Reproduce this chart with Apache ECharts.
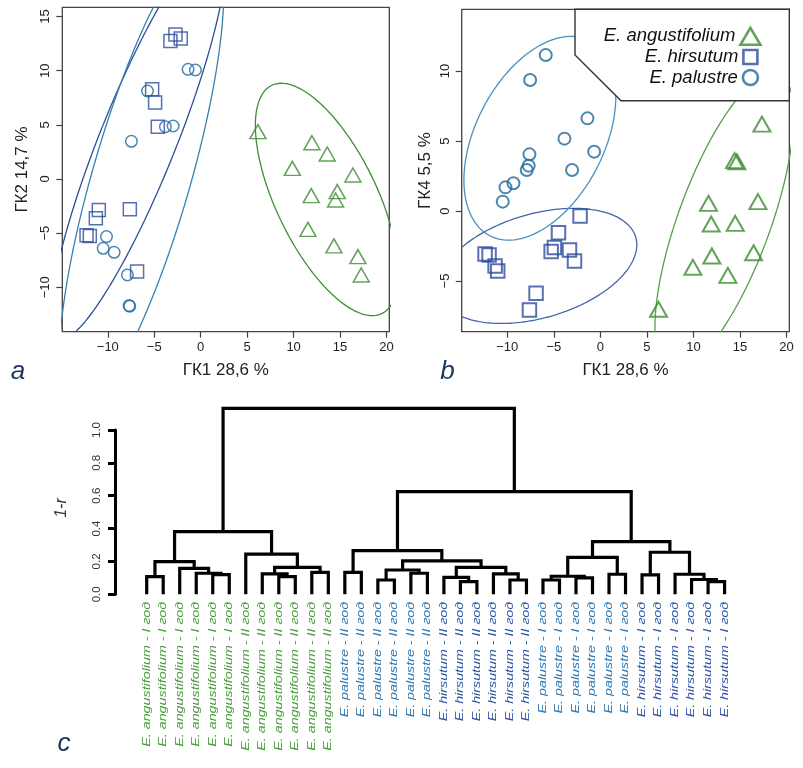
<!DOCTYPE html>
<html><head><meta charset="utf-8">
<script src="https://cdn.jsdelivr.net/npm/echarts@6/dist/echarts.min.js"></script>
<style>html,body{margin:0;padding:0;background:#fff}#c{width:803px;height:768px}</style>
</head><body><div id="c"></div>
<script>
// ---------- data: panel a (PC1 vs PC2) ----------
const aAngustifolium = [[6.16,4.37],[11.97,3.35],[13.62,2.31],[9.86,0.98],[16.38,0.37],[11.90,-1.54],[14.70,-1.17],[14.52,-1.94],[11.54,-4.65],[14.34,-6.18],[16.92,-7.17],[17.28,-8.86]];
const aHirsutum = [[-2.72,13.35],[-3.26,12.74],[-2.15,12.98],[-5.23,8.28],[-4.91,7.05],[-4.62,4.83],[-10.97,-2.86],[-11.29,-3.63],[-7.63,-2.80],[-12.29,-5.20],[-11.94,-5.26],[-6.85,-8.55]];
const aPalustre = [[-1.36,10.12],[-0.57,10.06],[-5.73,8.12],[-3.80,4.83],[-2.97,4.89],[-7.46,3.48],[-10.14,-5.32],[-10.50,-6.40],[-9.32,-6.77],[-7.89,-8.86],[-7.71,-11.69],[-7.64,-11.75]];
// ---------- data: panel b (PC1 vs PC4) ----------
const bAngustifolium = [[17.36,6.21],[14.42,3.60],[14.67,3.52],[11.62,0.55],[16.93,0.67],[11.91,-0.93],[14.49,-0.88],[11.98,-3.21],[16.46,-2.98],[9.94,-4.02],[13.70,-4.60],[6.25,-7.02]];
const bHirsutum = [[-2.18,-0.36],[-4.50,-1.55],[-4.94,-2.60],[-5.29,-2.90],[-3.32,-2.79],[-2.78,-3.57],[-12.39,-3.07],[-11.96,-3.14],[-11.31,-3.93],[-11.03,-4.29],[-6.91,-5.88],[-7.62,-7.07]];
const bPalustre = [[-5.87,11.14],[-7.55,9.36],[-1.39,6.62],[-3.86,5.17],[-0.67,4.24],[-7.62,4.05],[-7.70,3.24],[-7.91,2.93],[-3.04,2.93],[-9.34,1.98],[-10.20,1.69],[-10.49,0.67]];
// confidence ellipses: [centerX, centerY, varX, varY, covXY]
const ellipseAAng = [13.57,-1.89,59.1,115.1,-52.5];
const ellipseAHir = [-6.74,3.60,88.7,341.0,153.7];
const ellipseAPal = [-6.39,0.09,78.6,470.8,151.1];
const ellipseBAng = [13.31,-0.76,55.5,113.3,56.3];
const ellipseBHir = [-6.75,-3.92,113.8,16.9,16.0];
const ellipseBPal = [-6.50,5.20,66.6,53.0,24.5];
const xTicks = [-10,-5,0,5,10,15,20];
const aYTicks = [-10,-5,0,5,10,15];
const bYTicks = [-5,0,5,10];
// ---------- data: panel c (dendrogram) ----------
const leafLabels = [
 'E. angustifolium - I год','E. angustifolium - I год','E. angustifolium - I год','E. angustifolium - I год','E. angustifolium - I год','E. angustifolium - I год',
 'E. angustifolium - II год','E. angustifolium - II год','E. angustifolium - II год','E. angustifolium - II год','E. angustifolium - II год','E. angustifolium - II год',
 'E. palustre - II год','E. palustre - II год','E. palustre - II год','E. palustre - II год','E. palustre - II год','E. palustre - II год',
 'E. hirsutum - II год','E. hirsutum - II год','E. hirsutum - II год','E. hirsutum - II год','E. hirsutum - II год','E. hirsutum - II год',
 'E. palustre - I год','E. palustre - I год','E. palustre - I год','E. palustre - I год','E. palustre - I год','E. palustre - I год',
 'E. hirsutum - I год','E. hirsutum - I год','E. hirsutum - I год','E. hirsutum - I год','E. hirsutum - I год','E. hirsutum - I год'];
const leafGroups = [0,0,0,0,0,0,0,0,0,0,0,0,1,1,1,1,1,1,2,2,2,2,2,2,1,1,1,1,1,1,2,2,2,2,2,2];
// merges: [left, right, height]; negative = leaf number, positive = earlier merge number
const merges = [
 [-1,-2,0.107],[-5,-6,0.120],[-4,2,0.128],[-3,3,0.158],[1,4,0.199],
 [-9,-10,0.108],[-8,6,0.124],[-11,-12,0.134],[7,8,0.164],[-7,9,0.245],[5,10,0.381],
 [-13,-14,0.134],[-15,-16,0.087],[-17,-18,0.128],[13,14,0.148],
 [-20,-21,0.077],[-19,16,0.103],[-23,-24,0.087],[-22,18,0.124],[17,19,0.164],[15,20,0.203],[12,21,0.266],
 [-25,-26,0.087],[-27,-28,0.100],[23,24,0.110],[-29,-30,0.122],[25,26,0.225],
 [-31,-32,0.118],[-35,-36,0.077],[-34,29,0.090],[-33,30,0.122],[28,31,0.256],[27,32,0.320],
 [22,33,0.625],[11,34,1.132]];
const heightTicks = [0,0.2,0.4,0.6,0.8,1.0];

// ---------- styling ----------
const FF = 'Liberation Sans, Arial, Helvetica, sans-serif';
const GREEN = '#3b8c2f', HIR = '#2c4c9c', PAL = '#21699b';
const leafColors = ['#489c3b', '#2a76b2', '#2c53a6'];

function ellipsePoints(e){
  const [cx,cy,sxx,syy,sxy] = e;
  const l11 = Math.sqrt(sxx), l21 = sxy/l11, l22 = Math.sqrt(syy - l21*l21);
  const pts = [];
  for (let k = 0; k <= 240; k++) {
    const t = k/240*2*Math.PI, c = Math.cos(t), s = Math.sin(t);
    pts.push([cx + l11*c, cy + l21*c + l22*s]);
  }
  return pts;
}
// dendrogram segments from merges
const nodeX = [], nodeH = [];
function nodePos(r){ return r < 0 ? [-r, 0] : [nodeX[r-1], nodeH[r-1]]; }
const dendroSegs = [];
merges.forEach(([a,b,h], i) => {
  const [xa,ha] = nodePos(a), [xb,hb] = nodePos(b);
  nodeX[i] = (xa+xb)/2; nodeH[i] = h;
  dendroSegs.push([xa, xb, ha, hb, h]);
});

const minus = v => v < 0 ? '\u2212' + Math.abs(v) : String(v);
function xAx(gi, name){
  return {type:'value', gridIndex:gi, min:-14.9, max:20.3,
    axisLine:{show:false, onZero:false}, splitLine:{show:false},
    axisTick:{show:true, length:6, lineStyle:{color:'#444', width:1.2}, customValues:xTicks},
    axisLabel:{customValues:xTicks, formatter:minus, margin:9, color:'#222', fontSize:13, fontFamily:FF},
    name:name, nameLocation:'middle', nameGap:30, nameTextStyle:{color:'#222', fontSize:17, fontFamily:FF}};
}
function yAx(gi, min, max, ticks, name, gap){
  return {type:'value', gridIndex:gi, min:min, max:max,
    axisLine:{show:false, onZero:false}, splitLine:{show:false},
    axisTick:{show:true, length:6, lineStyle:{color:'#444', width:1.2}, customValues:ticks},
    axisLabel:{customValues:ticks, formatter:minus, rotate:90, margin:10, color:'#222', fontSize:13, fontFamily:FF},
    name:name, nameLocation:'middle', nameGap:gap, nameRotate:90, nameTextStyle:{color:'#222', fontSize:17, fontFamily:FF}};
}
function scat(name, data, gi, symbol, size, color, bw){
  return {type:'scatter', name:name, data:data, xAxisIndex:gi, yAxisIndex:gi, symbol:symbol, symbolSize:size,
    itemStyle:{color:'rgba(0,0,0,0)', borderColor:color, borderWidth:bw}, emphasis:{disabled:true}, z:3};
}
function ell(e, gi, color, w){
  return {type:'line', name:'_ellipse', data:ellipsePoints(e), xAxisIndex:gi, yAxisIndex:gi,
    showSymbol:false, symbol:'none', lineStyle:{color:color, width:w}, silent:true, z:2};
}
const legTxt = {fontStyle:'italic', fontSize:18.5, color:'#111', fontFamily:FF};

const option = {
  animation:false,
  backgroundColor:'#fff',
  grid:[
    {left:62.3, top:7.3, width:327, height:324.4, show:true, borderColor:'#444', borderWidth:1.3, backgroundColor:'rgba(0,0,0,0)'},
    {left:461.7, top:9.3, width:327.6, height:322.4, show:true, borderColor:'#444', borderWidth:1.3, backgroundColor:'rgba(0,0,0,0)'},
    {left:115, top:430, width:626.1, height:164.3, show:false}
  ],
  xAxis:[
    xAx(0, 'ГК1 28,6 %'),
    xAx(1, 'ГК1 28,6 %'),
    {type:'value', gridIndex:2, min:-0.92, max:37, show:false}
  ],
  yAxis:[
    yAx(0, -14.1, 15.85, aYTicks, 'ГК2 14,7 %', 31),
    yAx(1, -8.62, 14.41, bYTicks, 'ГК4 5,5 %', 28),
    {type:'value', gridIndex:2, min:0, max:1, interval:0.2,
      axisLine:{show:true, onZero:false, lineStyle:{color:'#000', width:3}},
      axisTick:{show:true, length:7, lineStyle:{color:'#000', width:3}},
      splitLine:{show:false},
      axisLabel:{rotate:90, margin:12, formatter:v => v.toFixed(1), color:'#333', fontSize:11.5, fontFamily:FF}}
  ],
  legend:[
    {right:41.3, top:26.5, padding:0, itemWidth:20, itemHeight:17, selectedMode:false, z:60, align:'right', textStyle:legTxt,
      data:[{name:'E. angustifolium', icon:'triangle', itemStyle:{color:'rgba(0,0,0,0)', borderColor:GREEN, borderWidth:2.6}}]},
    {right:44.3, top:47.5, padding:0, itemWidth:14, itemHeight:14, selectedMode:false, z:60, align:'right', textStyle:legTxt,
      data:[{name:'E. hirsutum', icon:'rect', itemStyle:{color:'rgba(0,0,0,0)', borderColor:HIR, borderWidth:2.6}}]},
    {right:43.8, top:68, padding:0, itemWidth:15, itemHeight:15, selectedMode:false, z:60, align:'right', textStyle:legTxt,
      data:[{name:'E. palustre', icon:'circle', itemStyle:{color:'rgba(0,0,0,0)', borderColor:PAL, borderWidth:2.6}}]}
  ],
  graphic:[
    {type:'polygon', z:50, shape:{points:[[575,9.3],[575,55],[621,100.7],[789.3,100.7],[789.3,9.3]]},
      style:{fill:'#fff', stroke:'#333', lineWidth:1.4}},
    {type:'text', x:18, y:372, z:50, style:{text:'a', fontSize:26, fontStyle:'italic', fill:'#1f3560', align:'center', verticalAlign:'middle', fontFamily:FF}},
    {type:'text', x:447.5, y:372, z:50, style:{text:'b', fontSize:26, fontStyle:'italic', fill:'#1f3560', align:'center', verticalAlign:'middle', fontFamily:FF}},
    {type:'text', x:64, y:744, z:50, style:{text:'c', fontSize:26, fontStyle:'italic', fill:'#1f3560', align:'center', verticalAlign:'middle', fontFamily:FF}},
    {type:'text', x:62, y:508, rotation:Math.PI/2, z:50, style:{text:'1-r', fontSize:16, fontStyle:'italic', fill:'#333', align:'center', verticalAlign:'middle', fontFamily:FF}}
  ],
  series:[
    ell(ellipseAHir, 0, '#2b4f95', 1.3),
    ell(ellipseAPal, 0, '#3580b0', 1.3),
    ell(ellipseAAng, 0, '#3f8e35', 1.3),
    scat('E. angustifolium', aAngustifolium, 0, 'triangle', [16,14], GREEN, 1.5),
    scat('E. hirsutum', aHirsutum, 0, 'rect', 13, HIR, 1.5),
    scat('E. palustre', aPalustre, 0, 'circle', 11.5, PAL, 1.5),
    ell(ellipseBHir, 1, '#4666ab', 1.3),
    ell(ellipseBPal, 1, '#4a90bf', 1.3),
    ell(ellipseBAng, 1, '#55a048', 1.3),
    scat('E. angustifolium', bAngustifolium, 1, 'triangle', [17,15], GREEN, 2),
    scat('E. hirsutum', bHirsutum, 1, 'rect', 13.5, HIR, 2),
    scat('E. palustre', bPalustre, 1, 'circle', 12, PAL, 2),
    {type:'custom', name:'_dendro', xAxisIndex:2, yAxisIndex:2, clip:false, silent:true, data:dendroSegs,
      encode:{x:[0,1], y:[2,3,4]},
      renderItem:function(params, api){
        const xa = api.value(0), xb = api.value(1), ha = api.value(2), hb = api.value(3), h = api.value(4);
        return {type:'polyline', shape:{points:[api.coord([xa,ha]), api.coord([xa,h]), api.coord([xb,h]), api.coord([xb,hb])]},
          style:{stroke:'#000', lineWidth:3.2, fill:null, lineJoin:'miter'}};
      }},
    {type:'custom', name:'_leaves', xAxisIndex:2, yAxisIndex:2, clip:false, silent:true,
      data:leafLabels.map((t,i) => [i+1, 0, leafGroups[i]]), encode:{x:0, y:1},
      renderItem:function(params, api){
        const p = api.coord([api.value(0), 0]);
        return {type:'text', x:p[0], y:p[1]+7.5, rotation:Math.PI/2, scaleX:1.36,
          style:{text:leafLabels[params.dataIndex], align:'right', verticalAlign:'middle', fontSize:10.5, fontStyle:'italic', fontFamily:FF, fill:leafColors[api.value(2)]}};
      }}
  ]
};
const chart = echarts.init(document.getElementById('c'), null, {width:803, height:768});
chart.setOption(option);
</script></body></html>
